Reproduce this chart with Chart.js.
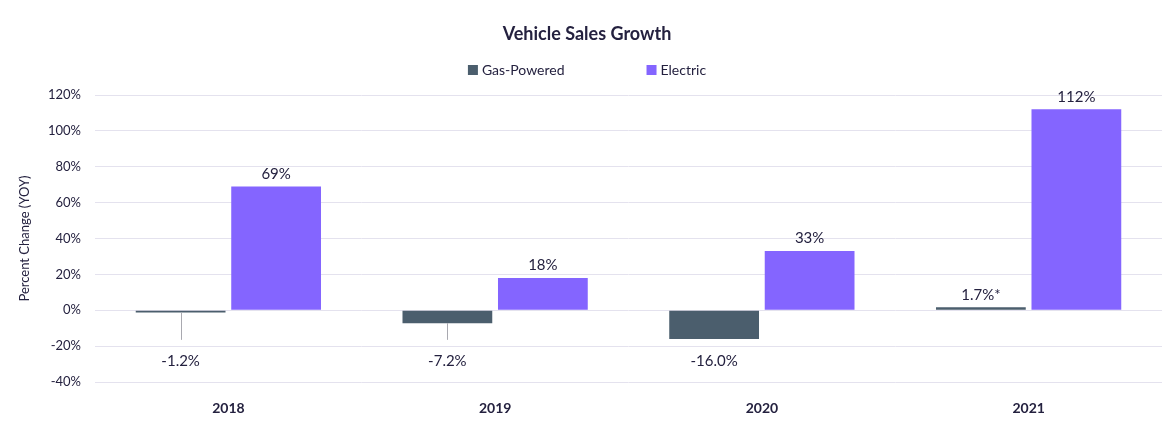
<!DOCTYPE html>
<html>
<head>
<meta charset="utf-8">
<script src="https://cdn.jsdelivr.net/npm/chart.js@4.4.1/dist/chart.umd.min.js"></script>
<style>
  html, body { margin: 0; padding: 0; background: #fff; }
  #wrap { width: 1174px; height: 432px; }
</style>
</head>
<body>
<div id="wrap"><canvas id="salesChart"></canvas></div>
<script>
// data
const years = ['2018', '2019', '2020', '2021'];
const gasValues = [-1.2, -7.2, -16.0, 1.7];
const electricValues = [69, 18, 33, 112];
const gasLabels = ['-1.2%', '-7.2%', '-16.0%', '1.7%*'];
const electricLabels = ['69%', '18%', '33%', '112%'];
const yTicks = [-40, -20, 0, 20, 40, 60, 80, 100, 120];

const FONT = 'Lato, "Open Sans", sans-serif';
const INK = '#24213f';
const GAS = '#4b5e6d';
const ELEC = '#8465ff';

// title + legend drawn at the top, value labels on the bars
const decorations = {
    id: 'decorations',
    afterDraw(chart) {
        const ctx = chart.ctx;
        ctx.save();
        ctx.fillStyle = INK;
        ctx.font = 'bold 18px ' + FONT;
        ctx.textAlign = 'center';
        ctx.textBaseline = 'middle';
        ctx.fillText('Vehicle Sales Growth', chart.width / 2, 34);

        // legend
        ctx.font = '14px ' + FONT;
        ctx.textAlign = 'left';
        const items = chart.data.datasets.map(ds => ({ text: ds.label, color: ds.backgroundColor }));
        const gap = 82, box = 10;
        const widths = items.map(it => box + 4 + ctx.measureText(it.text).width);
        const total = widths.reduce((a, b) => a + b, 0) + gap * (items.length - 1);
        let x = chart.width / 2 - total / 2;
        items.forEach((it, i) => {
            ctx.fillStyle = it.color;
            ctx.fillRect(x, 65, box, box);
            ctx.fillStyle = INK;
            ctx.fillText(it.text, x + box + 4, 70.5);
            x += widths[i] + gap;
        });
        ctx.restore();
    },
    afterDatasetsDraw(chart) {
        const ctx = chart.ctx;
        const y = chart.scales.y;
        ctx.save();
        ctx.font = '15px ' + FONT;
        ctx.textAlign = 'center';
        ctx.fillStyle = INK;
        const lineEnd = y.getPixelForValue(-16.5);

        chart.getDatasetMeta(1).data.forEach((bar, i) => {
            ctx.textBaseline = 'bottom';
            ctx.fillText(electricLabels[i], bar.x, bar.y - 5);
        });
        chart.getDatasetMeta(0).data.forEach((bar, i) => {
            if (gasValues[i] >= 0) {
                ctx.textBaseline = 'bottom';
                ctx.fillText(gasLabels[i], bar.x, bar.y - 5);
                return;
            }
            if (bar.y < lineEnd - 2) {
                ctx.strokeStyle = '#a9a9b0';
                ctx.lineWidth = 1;
                ctx.beginPath();
                ctx.moveTo(Math.round(bar.x) + 0.5, bar.y);
                ctx.lineTo(Math.round(bar.x) + 0.5, lineEnd);
                ctx.stroke();
            }
            ctx.textBaseline = 'middle';
            ctx.fillText(gasLabels[i], bar.x, Math.max(bar.y, lineEnd) + 21);
        });
        ctx.restore();
    }
};

new Chart(document.getElementById('salesChart'), {
    type: 'bar',
    data: {
        labels: years,
        datasets: [
            { label: 'Gas-Powered', data: gasValues, backgroundColor: GAS },
            { label: 'Electric', data: electricValues, backgroundColor: ELEC }
        ]
    },
    options: {
        responsive: true,
        maintainAspectRatio: false,
        animation: false,
        categoryPercentage: 0.716,
        barPercentage: 0.94,
        layout: { padding: { top: 95, right: 12, left: 17, bottom: 0 } },
        plugins: {
            legend: { display: false },
            tooltip: { enabled: false }
        },
        scales: {
            x: {
                grid: { display: false, drawTicks: false },
                border: { display: false },
                ticks: { color: INK, font: { family: FONT, size: 14, weight: 'bold' }, padding: 18 },
                afterFit: s => { s.height = 50; }
            },
            y: {
                min: -40,
                max: 120,
                afterBuildTicks: s => { s.ticks = yTicks.map(v => ({ value: v })); },
                grid: { color: '#e4e2ee', lineWidth: 1, drawTicks: false },
                border: { display: false },
                ticks: {
                    color: INK,
                    font: { family: FONT, size: 13 },
                    padding: 14,
                    callback: v => v + '%'
                },
                title: {
                    display: true,
                    text: 'Percent Change (YOY)',
                    color: INK,
                    font: { family: FONT, size: 13 },
                    padding: { top: 0, bottom: 8 }
                },
                afterFit: s => { s.width = 78; }
            }
        }
    },
    plugins: [decorations]
});
</script>
</body>
</html>
